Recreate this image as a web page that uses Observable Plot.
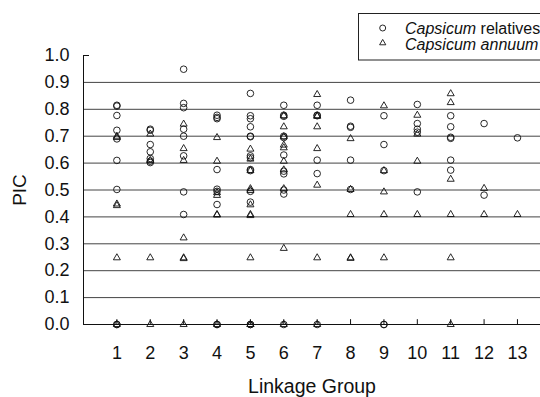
<!DOCTYPE html>
<html><head><meta charset="utf-8">
<script src="https://cdn.jsdelivr.net/npm/d3@7"></script>
<script src="https://cdn.jsdelivr.net/npm/@observablehq/plot@0.6"></script>
<style>
html,body{margin:0;padding:0;background:#fff;overflow:hidden;width:540px;height:397px;}
#wrap{position:relative;width:540px;height:397px;overflow:hidden;}
#legend{position:absolute;left:358px;top:13px;}
</style></head><body><div id="wrap"></div>
<script>
// Linkage groups (x categories)
const linkageGroups = [1, 2, 3, 4, 5, 6, 7, 8, 9, 10, 11, 12, 13];
// y tick labels and grid levels
const yTicks = [0, 0.1, 0.2, 0.3, 0.4, 0.5, 0.6, 0.7, 0.8, 0.9, 1.0];
const gridLevels = [0.1, 0.2, 0.3, 0.4, 0.5, 0.6, 0.7, 0.8, 0.9];
const seriesNames = ["Capsicum relatives", "Capsicum annuum"];

// PIC values of Capsicum relatives (circles), one list per linkage group 1..13
const relativesPIC = [
  [0.815, 0.812, 0.777, 0.722, 0.69, 0.61, 0.502, 0, 0],
  [0.726, 0.722, 0.669, 0.642, 0.617, 0.607, 0.602],
  [0.949, 0.822, 0.806, 0.726, 0.700, 0.627, 0.493, 0.409],
  [0.778, 0.770, 0.765, 0.576, 0.503, 0.495, 0.446, 0, 0],
  [0.859, 0.776, 0.765, 0.735, 0.700, 0.698, 0.627, 0.620, 0.576, 0.572, 0.495, 0.455, 0, 0],
  [0.815, 0.778, 0.774, 0.700, 0.695, 0.630, 0.570, 0.560, 0.500, 0.485, 0],
  [0.815, 0.778, 0.776, 0.611, 0.561, 0],
  [0.834, 0.737, 0.733, 0.611, 0.502],
  [0.776, 0.669, 0.572, 0, 0],
  [0.818, 0.747, 0.726, 0.715, 0.493],
  [0.776, 0.735, 0.696, 0.692, 0.611, 0.574],
  [0.747, 0.481],
  [0.694]
];
// PIC values of Capsicum annuum (triangles), one list per linkage group 1..13
const annuumPIC = [
  [0.700, 0.695, 0.448, 0.442, 0.248, 0],
  [0.708, 0.610, 0.248, 0],
  [0.745, 0.654, 0.610, 0.322, 0.248, 0.245, 0],
  [0.695, 0.607, 0.490, 0.480, 0.409, 0.407, 0],
  [0.652, 0.615, 0.572, 0.505, 0.498, 0.445, 0.409, 0.405, 0.248, 0, 0],
  [0.776, 0.735, 0.698, 0.667, 0.657, 0.607, 0.575, 0.505, 0.283, 0],
  [0.855, 0.776, 0.774, 0.735, 0.654, 0.518, 0.248, 0],
  [0.691, 0.502, 0.409, 0.248, 0.246],
  [0.813, 0.572, 0.493, 0.409, 0.248],
  [0.778, 0.708, 0.607, 0.409],
  [0.858, 0.825, 0.540, 0.409, 0.248, 0],
  [0.506, 0.409],
  [0.409]
];

function toRows(byGroup, series) {
  return byGroup.flatMap((vals, i) => vals.map(v => ({group: linkageGroups[i], pic: v, series})));
}
const relatives = toRows(relativesPIC, seriesNames[0]);
const annuum = toRows(annuumPIC, seriesNames[1]);

const font = "'Liberation Sans', Arial, Helvetica, sans-serif";
const ink = "#111";

const chart = Plot.plot({
  width: 540,
  height: 397,
  marginLeft: 83,
  marginRight: 0,
  marginTop: 55,
  marginBottom: 73,
  style: {fontFamily: font, fontSize: "18px", color: ink, background: "white", overflow: "visible"},
  x: {type: "linear", domain: [0, 13.69]},
  y: {type: "linear", domain: [0, 1]},
  marks: [
    Plot.ruleY(gridLevels, {stroke: "#444", strokeWidth: 1}),
    Plot.ruleY([0], {stroke: ink, strokeWidth: 1}),
    Plot.ruleX([0], {y1: 0, y2: 1, stroke: ink, strokeWidth: 1}),
    Plot.ruleY([1], {x1: 0, x2: 0.18, stroke: ink, strokeWidth: 1}),
    Plot.ruleX(linkageGroups, {y1: 0, y2: 0.018, stroke: ink, strokeWidth: 1}),
    Plot.axisX({ticks: linkageGroups, tickSize: 0, tickPadding: 22, tickFormat: d => String(d), label: null, fill: ink}),
    Plot.axisX({ticks: [], label: "Linkage Group", labelAnchor: "center", labelOffset: 68, labelArrow: "none", fontSize: 19.5, fill: ink}),
    Plot.axisY({ticks: yTicks, tickSize: 0, tickPadding: 14, tickFormat: d3.format(".1f"), label: null, fill: ink}),
    Plot.axisY({ticks: [], label: "PIC", labelAnchor: "center", labelOffset: 71, labelArrow: "none", fontSize: 19, fill: ink}),
    Plot.dot(relatives, {x: "group", y: "pic", symbol: "circle", r: 3.3, stroke: ink, strokeWidth: 0.9, fill: "none"}),
    Plot.dot(annuum, {x: "group", y: "pic", symbol: "triangle", r: 2.6, stroke: ink, strokeWidth: 0.9, fill: "none"})
  ]
});

const wrap = document.getElementById("wrap");
wrap.appendChild(chart);

// Legend (top right, clipped at the right edge as in the reference)
const lg = d3.create("svg").attr("id", "legend").attr("width", 182).attr("height", 48)
  .style("font-family", font).style("font-size", "16px").style("overflow", "hidden");
lg.append("rect").attr("x", 0.5).attr("y", 0.5).attr("width", 260).attr("height", 46.5)
  .attr("fill", "white").attr("stroke", "#222").attr("stroke-width", 1);
const symCircle = d3.symbol(d3.symbolCircle, Math.PI * 3 * 3)();
const symTri = d3.symbol(d3.symbolTriangle, Math.PI * 2.3 * 2.3)();
lg.append("path").attr("d", symCircle).attr("transform", "translate(24.7,15)")
  .attr("fill", "none").attr("stroke", ink).attr("stroke-width", 0.9);
lg.append("path").attr("d", symTri).attr("transform", "translate(24.7,30)")
  .attr("fill", "none").attr("stroke", ink).attr("stroke-width", 0.9);
const t1 = lg.append("text").attr("x", 47).attr("y", 20.5).attr("fill", ink);
t1.append("tspan").attr("font-style", "italic").text("Capsicum");
t1.append("tspan").text(" relatives");
const t2 = lg.append("text").attr("x", 47).attr("y", 36.5).attr("fill", ink);
t2.append("tspan").attr("font-style", "italic").text("Capsicum annuum");
wrap.appendChild(lg.node());
</script></body></html>
